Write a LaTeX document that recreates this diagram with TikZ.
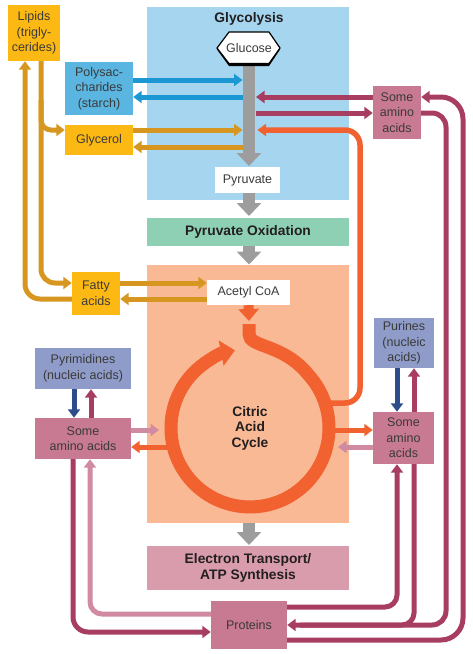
\documentclass[tikz,border=0pt]{standalone}
\usepackage{fontspec}
\setmainfont{Liberation Sans}
\usetikzlibrary{arrows.meta}
\definecolor{cGlyc}{HTML}{A5D5EF}
\definecolor{cPoly}{HTML}{5BB5E1}
\definecolor{cBlue}{HTML}{1B98D4}
\definecolor{cGoldBox}{HTML}{FDB913}
\definecolor{cGold}{HTML}{D6961F}
\definecolor{cGreen}{HTML}{8ED0B3}
\definecolor{cSalmon}{HTML}{F9B994}
\definecolor{cOrange}{HTML}{F26130}
\definecolor{cCrim}{HTML}{A73D60}
\definecolor{cPinkBox}{HTML}{C87A92}
\definecolor{cLPink}{HTML}{D08AA2}
\definecolor{cLav}{HTML}{8F9CC9}
\definecolor{cDBlue}{HTML}{2D4C8C}
\definecolor{cETC}{HTML}{D99CAD}
\definecolor{cGray}{HTML}{9D9D9D}
\definecolor{cTxt}{HTML}{3A3A3A}
\definecolor{cTitle}{HTML}{231F20}
\begin{document}
\begin{tikzpicture}[x=1pt,y=-1pt,
  box/.style={inner sep=0pt, align=center, text=cTxt, font=\fontsize{12.5}{15.5}\selectfont},
  bgbox/.style={inner sep=0pt},
  title/.style={inner sep=0pt, align=center, text=cTitle, font=\fontsize{13.8}{15.5}\selectfont\bfseries},
  tip/.style={-{Triangle[width=12pt,length=8.5pt]}},
  conn/.style={line width=5pt},
  goldline/.style={conn, draw=cGold},
  blueline/.style={conn, draw=cBlue},
  crimline/.style={conn, draw=cCrim},
  lpinkline/.style={conn, draw=cLPink},
  dblueline/.style={conn, draw=cDBlue},
  orangeline/.style={conn, draw=cOrange},
  grayarrow/.style={draw=cGray, line width=12pt, -{Triangle[width=24pt,length=13pt]}}
]
\useasboundingbox (0,0) rectangle (473,654);

% backgrounds
\node[bgbox, fill=cGlyc, minimum width=202pt, minimum height=193pt] (glyc) at (248,103.5) {};
\node[bgbox, fill=cGreen, minimum width=202pt, minimum height=28pt] (pyrox) at (248,232) {};
\node[bgbox, fill=cSalmon, minimum width=202pt, minimum height=258pt] (tca) at (248,394) {};
\node[bgbox, fill=cETC, minimum width=202pt, minimum height=44pt] (etc) at (248,568) {};

\node[title] (glyctitle) at (249,19) {Glycolysis};
\node[title] (pyroxtitle) at (248,232) {Pyruvate Oxidation};
\node[title] (etctitle) at (248,568) {Electron Transport/\\ATP Synthesis};
\node[title] (tcatitle) at (250,428) {Citric\\Acid\\Cycle};

% gray arrows
\draw[grayarrow] (249,64) -- (249,166);
\draw[grayarrow] (249,193) -- (249,216);
\draw[grayarrow] (249,246) -- (249,264.5);
\draw[grayarrow] (249,523) -- (249,545);

% glucose hexagon
\fill[black] (217,49.5) -- (229,33.5) -- (269,33.5) -- (280,49.5) -- (269,66) -- (229,66) -- cycle;
\draw[black, line width=1.2pt, fill=white] (217,48) -- (229,32) -- (269,32) -- (280,48) -- (269,63.5) -- (229,63.5) -- cycle;
\node[box] (glucose) at (249,48) {Glucose};

% white boxes
\node[box, fill=white, minimum width=65pt, minimum height=26pt] (pyruvate) at (247.5,180) {Pyruvate};
\node[box, fill=white, minimum width=83pt, minimum height=25pt] (acetyl) at (248.5,292.5) {Acetyl CoA};

% side boxes
\node[box, fill=cGoldBox, minimum width=52pt, minimum height=56pt] (lipids) at (34,33) {Lipids\\(trigly-\\cerides)};
\node[box, fill=cPoly, minimum width=68pt, minimum height=53pt] (poly) at (99,88.5) {Polysac-\\charides\\(starch)};
\node[box, fill=cGoldBox, minimum width=68pt, minimum height=30pt] (glycerol) at (99,140) {Glycerol};
\node[box, fill=cGoldBox, minimum width=48pt, minimum height=43pt] (fatty) at (96,293.5) {Fatty\\acids};
\node[box, fill=cLav, minimum width=96pt, minimum height=41pt] (pyrim) at (83,368.5) {Pyrimidines\\(nucleic acids)};
\node[box, fill=cPinkBox, minimum width=96pt, minimum height=41pt] (aaL) at (83,438.5) {Some\\amino acids};
\node[box, fill=cPinkBox, minimum width=48pt, minimum height=53pt] (aaT) at (397,112.5) {Some\\amino\\acids};
\node[box, fill=cLav, minimum width=60pt, minimum height=50pt] (purines) at (404,343) {Purines\\(nucleic\\acids)};
\node[box, fill=cPinkBox, minimum width=61pt, minimum height=52pt] (aaR) at (403.5,438) {Some\\amino\\acids};
\node[box, fill=cPinkBox, minimum width=76pt, minimum height=48pt] (proteins) at (249,625) {Proteins};

% blue arrows
\draw[blueline, tip] (poly.east |- 0,80) -- (242.5,80);
\draw[blueline, tip] (243,97) -- (poly.east |- 0,97);

% gold arrows
\draw[goldline, tip] (glycerol.east |- 0,130) -- (242.5,130);
\draw[goldline, tip] (243,147) -- (glycerol.east |- 0,147);
\draw[goldline, tip] (fatty.east |- 0,283) -- (acetyl.west |- 0,283);
\draw[goldline, tip] (acetyl.west |- 0,299) -- (fatty.east |- 0,299);
\draw[goldline, tip, rounded corners=15pt] (fatty.west |- 0,299) -- (25,299) -- (25,0 |- lipids.south);
\draw[goldline, tip, rounded corners=14pt] (41,0 |- lipids.south) -- (41,283) -- (fatty.west |- 0,283);
\draw[goldline, tip, rounded corners=10pt] (41,100) -- (41,130) -- (glycerol.west |- 0,130);

% crimson top
\draw[crimline, tip] (aaT.west |- 0,97) -- (256,97);
\draw[crimline, tip] (256,113) -- (aaT.west |- 0,113);
\draw[crimline, tip, rounded corners=14pt] (aaT.east |- 0,113) -- (446,113) -- (446,625) -- (proteins.east |- 0,625);
\draw[crimline, tip, rounded corners=22pt] (proteins.east |- 0,640) -- (463,640) -- (463,97) -- (aaT.east |- 0,97);

% right middle
\draw[crimline, rounded corners=12pt] (414,0 |- aaR.south) -- (414,625) -- (300,625);
\draw[crimline, tip, rounded corners=12pt] (proteins.east |- 0,607) -- (397,607) -- (397,0 |- aaR.south);
\draw[crimline, tip] (414,0 |- aaR.north) -- (414,0 |- purines.south);
\draw[dblueline, tip] (397,0 |- purines.south) -- (397,0 |- aaR.north);

% left middle
\draw[dblueline, tip] (74,0 |- pyrim.south) -- (74,0 |- aaL.north);
\draw[crimline, tip] (91,0 |- aaL.north) -- (91,0 |- pyrim.south);
\draw[crimline, tip, rounded corners=15pt] (73,0 |- aaL.south) -- (73,632) -- (proteins.west |- 0,632);
\draw[lpinkline, tip, rounded corners=12pt] (proteins.west |- 0,614) -- (90,614) -- (90,0 |- aaL.south);

% orange connections
\draw[orangeline, line width=5.5pt, tip, rounded corners=15pt] (325,403) -- (360,403) -- (360,130) -- (257.5,130);
\draw[orangeline, tip] (330,430) -- (aaR.west |- 0,430);
\draw[lpinkline, tip] (aaR.west |- 0,447) -- (338,447);
\draw[lpinkline, tip] (aaL.east |- 0,430) -- (159,430);
\draw[orangeline, tip] (172,447) -- (aaL.east |- 0,447);
\draw[draw=cOrange, line width=10pt, -{Triangle[width=20pt,length=12pt]}] (acetyl.south) -- (249,321);

% citric acid cycle ring
\draw[draw=cOrange, line width=13pt, -{Triangle[width=25pt,length=14pt]}]
  (249,324) -- (249,334) .. controls (249,348) and (283,343) .. (308.7,375.1)
  arc[start angle=-42, end angle=259, radius=79];
\end{tikzpicture}
\end{document}
